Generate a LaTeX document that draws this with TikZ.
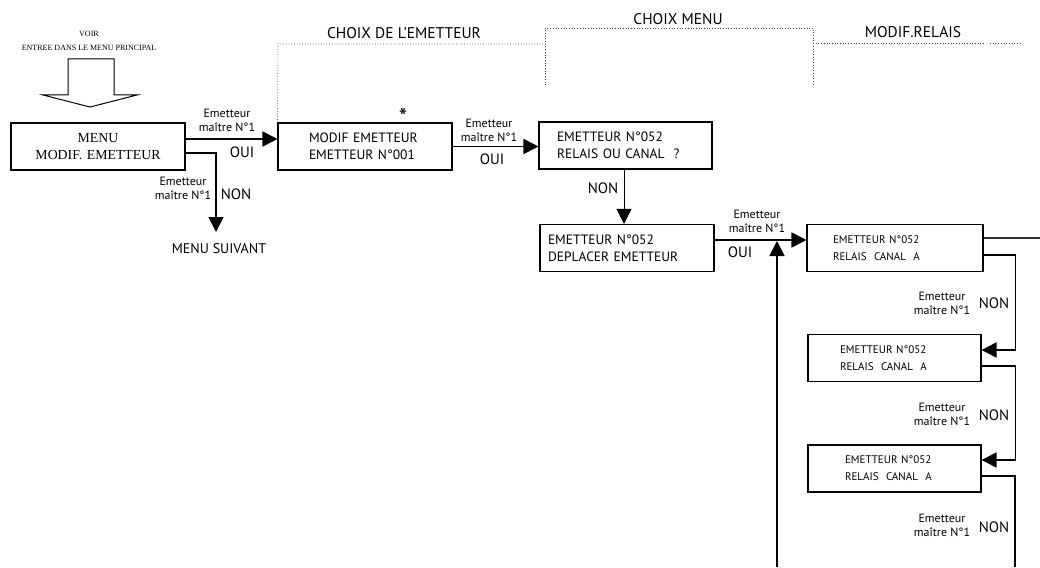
\documentclass[tikz,border=0pt]{standalone}
\usepackage{fontspec}
\setmainfont{PT Sans}
\newfontfamily\romfont{Liberation Serif}
\usetikzlibrary{arrows.meta,positioning,calc}

\begin{document}
\begin{tikzpicture}[x=1pt,y=-1pt,
  ecran/.style 2 args={rectangle,draw,line width=1.1pt,minimum height=47pt,inner xsep=#1,text width=#2,align=left,font=\fontsize{13.5}{17}\selectfont},
  relais/.style 2 args={ecran={#1}{#2},font=\fontsize{11}{17}\selectfont},
  petit/.style={align=center,font=\fontsize{12}{14}\selectfont,inner sep=0pt},
  reponse/.style={font=\fontsize{15}{15}\selectfont,inner sep=0pt},
  choix/.style={font=\fontsize{15.5}{16}\selectfont,inner sep=0pt},
  fleche/.style={-{Triangle[length=15pt,width=15pt]},line width=1.8pt},
  pointille/.style={dotted,line width=0.7pt,black!75}
]
  \useasboundingbox (0,0) rectangle (1040,567);

  \node[align=center,font=\romfont\fontsize{8}{14}\selectfont] (voir) at (89,41) {VOIR\\ENTREE DANS LE MENU PRINCIPAL};
  \draw[line width=1pt,fill=white] (68,59) -- (114,59) -- (114,95) -- (137,95) -- (90,107) -- (43,95) -- (68,95) -- cycle;

  \node[ecran={4pt}{166pt},align=center,font=\romfont\fontsize{13.8}{17.5}\selectfont] (menu) at (98,146.5) {MENU\\MODIF. EMETTEUR};
  \node[ecran={31pt}{112pt}] (modif) at (365,146.5) {MODIF EMETTEUR\\EMETTEUR N°001};
  \node[ecran={18pt}{137pt}] (canal) at (625.5,145.5) {EMETTEUR N°052\\RELAIS OU CANAL\ \ ?};
  \node[ecran={8pt}{158pt}] (deplacer) at (627,248) {EMETTEUR N°052\\DEPLACER EMETTEUR};
  \node[relais={26pt}{124pt}] (relaisA) at (895,248) {EMETTEUR N°052\\RELAIS\ \ CANAL\ \ A};
  \node[relais={32pt}{109pt}] (relaisB) at (894.5,358) {EMETTEUR N°052\\RELAIS\ \ CANAL\ \ A};
  \node[relais={37pt}{99pt}] (relaisC) at (894.5,468.5) {EMETTEUR N°052\\RELAIS\ \ CANAL\ \ A};

  \node[anchor=base,inner sep=0pt,font=\fontsize{24}{24}\selectfont] (etoile) at (403,125) {*};
  \node[reponse,font=\fontsize{14}{14}\selectfont] (suivant) at (219,249) {MENU SUIVANT};

  % sections
  \node[choix] (emetteur) at (404,33) {CHOIX DE L'EMETTEUR};
  \node[choix] (menuchoix) at (678,19) {CHOIX MENU};
  \node[choix] (modrelais) at (913,32) {MODIF.RELAIS};
  \draw[pointille] (modif.north west) -- (278,44) -- (545,44);
  \draw[pointille] (545,85) -- (545,28) -- (813,28) -- (813,85);
  \draw[pointille] (813,43) -- (985,43);
  \draw[pointille] (990,43) -- (1020,43);

  % liaisons
  \draw[fleche] ([yshift=7.5pt]menu.east) -- ([yshift=7.5pt]modif.west);
  \node[petit] at (227,120) {Emetteur\\maître N°1};
  \node[reponse] at (242,152) {OUI};

  \coordinate (fin) at (216,232);
  \draw[fleche] ([yshift=-6.5pt]menu.east) -| (fin);
  \node[petit] at (183,188.5) {Emetteur\\maître N°1};
  \node[reponse] at (236,194) {NON};

  \draw[fleche] (modif.east) -- (modif.east -| canal.west);
  \node[petit] at (489,130.5) {Emetteur\\maître N°1};
  \node[reponse] at (492,159) {OUI};

  \draw[fleche,line width=1pt] ([xshift=-1.5pt]canal.south) -- ([xshift=-1.5pt]canal.south |- deplacer.north);
  \node[reponse] at (603,188) {NON};

  \draw[fleche] ([yshift=8pt]deplacer.east) -- ([yshift=8pt]deplacer.east -| relaisA.west);
  \node[petit] at (757,221.5) {Emetteur\\maître N°1};
  \node[reponse] at (740,252) {OUI};

  \coordinate (bas) at (777,567);
  \coordinate (retour) at (777,241);
  \draw[fleche] (bas) -- (retour);

  \coordinate (sortie) at (1040,238);
  \draw[line width=2pt,black!80] ([yshift=10pt]relaisA.east) -- (sortie);

  \draw[fleche] ([yshift=-7pt]relaisA.east) -- ++(32,0) |- ([yshift=8pt]relaisB.east);
  \node[petit] at (942,303) {Emetteur\\maître N°1};
  \node[reponse] at (994,303) {NON};

  \draw[fleche] ([yshift=-8pt]relaisB.east) -- ++(34,0) |- ([yshift=8.5pt]relaisC.east);
  \node[petit] at (942,414) {Emetteur\\maître N°1};
  \node[reponse] at (994,415) {NON};

  \coordinate (bas2) at (1015,567);
  \draw[line width=1.8pt] ([yshift=-7.5pt]relaisC.east) -| (bas2);
  \node[petit] at (942,525) {Emetteur\\maître N°1};
  \node[reponse] at (994,527) {NON};
\end{tikzpicture}
\end{document}
